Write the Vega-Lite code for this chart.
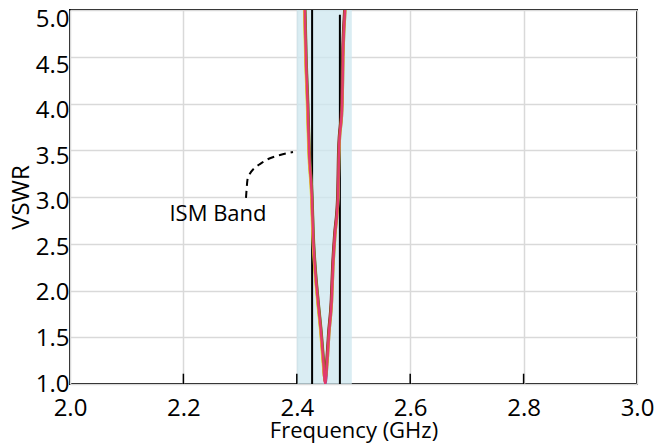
{
  "$schema": "https://vega.github.io/schema/vega-lite/v6.json",
  "width": 567,
  "height": 374,
  "autosize": {"type": "none"},
  "padding": {"left": 70, "top": 10, "right": 18, "bottom": 60},
  "background": "white",
  "config": {
    "view": {"stroke": "black", "strokeWidth": 2},
    "font": "Open Sans"
  },
  "datasets": {
    "band": [{"f": 2.4, "f2": 2.497, "v": 1, "v2": 5}],
    "markers": [{"f": 2.427, "v": 1, "v2": 5}, {"f": 2.476, "v": 1, "v2": 4.95}],
    "ticks": [{"f": 2.2, "v": 1, "v2": 1.11}, {"f": 2.4, "v": 1, "v2": 1.11}, {"f": 2.6, "v": 1, "v2": 1.11}, {"f": 2.8, "v": 1, "v2": 1.11}],
    "arc": [{"f": 2.3104, "v": 2.99}, {"f": 2.3139, "v": 3.214}, {"f": 2.3404, "v": 3.374}, {"f": 2.3704, "v": 3.449}, {"f": 2.3933, "v": 3.481}],
    "label": [{"f": 2.261, "v": 2.813, "t": "ISM Band"}],
    "curves": [
      {"s": "S1", "f": 2.4116, "v": 5.3}, {"s": "S1", "f": 2.4146, "v": 5.0}, {"s": "S1", "f": 2.4166, "v": 4.5}, {"s": "S1", "f": 2.4196, "v": 4.0}, {"s": "S1", "f": 2.4221, "v": 3.5}, {"s": "S1", "f": 2.4271, "v": 3.0}, {"s": "S1", "f": 2.4292, "v": 2.6}, {"s": "S1", "f": 2.4326, "v": 2.25}, {"s": "S1", "f": 2.4376, "v": 1.9}, {"s": "S1", "f": 2.4433, "v": 1.55}, {"s": "S1", "f": 2.4476, "v": 1.22}, {"s": "S1", "f": 2.4503, "v": 1.0}, {"s": "S1", "f": 2.4539, "v": 1.22}, {"s": "S1", "f": 2.4574, "v": 1.55}, {"s": "S1", "f": 2.4621, "v": 1.9}, {"s": "S1", "f": 2.4644, "v": 2.25}, {"s": "S1", "f": 2.468, "v": 2.6}, {"s": "S1", "f": 2.4733, "v": 3.0}, {"s": "S1", "f": 2.475, "v": 3.5}, {"s": "S1", "f": 2.4806, "v": 4.0}, {"s": "S1", "f": 2.4821, "v": 4.5}, {"s": "S1", "f": 2.4856, "v": 5.0}, {"s": "S1", "f": 2.4876, "v": 5.3},
      {"s": "S2", "f": 2.4106, "v": 5.3}, {"s": "S2", "f": 2.4136, "v": 5.0}, {"s": "S2", "f": 2.4156, "v": 4.5}, {"s": "S2", "f": 2.4186, "v": 4.0}, {"s": "S2", "f": 2.4211, "v": 3.5}, {"s": "S2", "f": 2.4261, "v": 3.0}, {"s": "S2", "f": 2.4282, "v": 2.6}, {"s": "S2", "f": 2.4316, "v": 2.25}, {"s": "S2", "f": 2.4366, "v": 1.9}, {"s": "S2", "f": 2.4423, "v": 1.55}, {"s": "S2", "f": 2.4466, "v": 1.22}, {"s": "S2", "f": 2.4493, "v": 1.02}, {"s": "S2", "f": 2.4521, "v": 1.22}, {"s": "S2", "f": 2.4556, "v": 1.55}, {"s": "S2", "f": 2.4603, "v": 1.9}, {"s": "S2", "f": 2.4626, "v": 2.25}, {"s": "S2", "f": 2.4662, "v": 2.6}, {"s": "S2", "f": 2.4715, "v": 3.0}, {"s": "S2", "f": 2.4732, "v": 3.5}, {"s": "S2", "f": 2.4788, "v": 4.0}, {"s": "S2", "f": 2.4803, "v": 4.5}, {"s": "S2", "f": 2.4838, "v": 5.0}, {"s": "S2", "f": 2.4858, "v": 5.3},
      {"s": "S3", "f": 2.41, "v": 5.3}, {"s": "S3", "f": 2.413, "v": 5.0}, {"s": "S3", "f": 2.415, "v": 4.5}, {"s": "S3", "f": 2.418, "v": 4.0}, {"s": "S3", "f": 2.4205, "v": 3.5}, {"s": "S3", "f": 2.4255, "v": 3.0}, {"s": "S3", "f": 2.4276, "v": 2.6}, {"s": "S3", "f": 2.431, "v": 2.25}, {"s": "S3", "f": 2.436, "v": 1.9}, {"s": "S3", "f": 2.4417, "v": 1.55}, {"s": "S3", "f": 2.446, "v": 1.22}, {"s": "S3", "f": 2.4492, "v": 1.03}, {"s": "S3", "f": 2.4539, "v": 1.22}, {"s": "S3", "f": 2.4574, "v": 1.55}, {"s": "S3", "f": 2.4621, "v": 1.9}, {"s": "S3", "f": 2.4644, "v": 2.25}, {"s": "S3", "f": 2.468, "v": 2.6}, {"s": "S3", "f": 2.4733, "v": 3.0}, {"s": "S3", "f": 2.475, "v": 3.5}, {"s": "S3", "f": 2.4806, "v": 4.0}, {"s": "S3", "f": 2.4821, "v": 4.5}, {"s": "S3", "f": 2.4856, "v": 5.0}, {"s": "S3", "f": 2.4876, "v": 5.3},
      {"s": "S4", "f": 2.412, "v": 5.3}, {"s": "S4", "f": 2.415, "v": 5.0}, {"s": "S4", "f": 2.417, "v": 4.5}, {"s": "S4", "f": 2.42, "v": 4.0}, {"s": "S4", "f": 2.4225, "v": 3.5}, {"s": "S4", "f": 2.4275, "v": 3.0}, {"s": "S4", "f": 2.4296, "v": 2.6}, {"s": "S4", "f": 2.433, "v": 2.25}, {"s": "S4", "f": 2.438, "v": 1.9}, {"s": "S4", "f": 2.4437, "v": 1.55}, {"s": "S4", "f": 2.448, "v": 1.22}, {"s": "S4", "f": 2.4502, "v": 1.02}, {"s": "S4", "f": 2.4529, "v": 1.22}, {"s": "S4", "f": 2.4564, "v": 1.55}, {"s": "S4", "f": 2.4611, "v": 1.9}, {"s": "S4", "f": 2.4634, "v": 2.25}, {"s": "S4", "f": 2.467, "v": 2.6}, {"s": "S4", "f": 2.4723, "v": 3.0}, {"s": "S4", "f": 2.474, "v": 3.5}, {"s": "S4", "f": 2.4796, "v": 4.0}, {"s": "S4", "f": 2.4811, "v": 4.5}, {"s": "S4", "f": 2.4846, "v": 5.0}, {"s": "S4", "f": 2.4866, "v": 5.3},
      {"s": "S5", "f": 2.411, "v": 5.3}, {"s": "S5", "f": 2.414, "v": 5.0}, {"s": "S5", "f": 2.416, "v": 4.5}, {"s": "S5", "f": 2.419, "v": 4.0}, {"s": "S5", "f": 2.4215, "v": 3.5}, {"s": "S5", "f": 2.4265, "v": 3.0}, {"s": "S5", "f": 2.4286, "v": 2.6}, {"s": "S5", "f": 2.432, "v": 2.25}, {"s": "S5", "f": 2.437, "v": 1.9}, {"s": "S5", "f": 2.4427, "v": 1.55}, {"s": "S5", "f": 2.447, "v": 1.22}, {"s": "S5", "f": 2.4497, "v": 1.0}, {"s": "S5", "f": 2.4533, "v": 1.22}, {"s": "S5", "f": 2.4568, "v": 1.55}, {"s": "S5", "f": 2.4615, "v": 1.9}, {"s": "S5", "f": 2.4638, "v": 2.25}, {"s": "S5", "f": 2.4674, "v": 2.6}, {"s": "S5", "f": 2.4727, "v": 3.0}, {"s": "S5", "f": 2.4744, "v": 3.5}, {"s": "S5", "f": 2.48, "v": 4.0}, {"s": "S5", "f": 2.4815, "v": 4.5}, {"s": "S5", "f": 2.485, "v": 5.0}, {"s": "S5", "f": 2.487, "v": 5.3}
    ]
  },
  "encoding": {
    "x": {
      "field": "f", "type": "quantitative",
      "scale": {"domain": [2, 3], "nice": false, "zero": false},
      "axis": {
        "title": "Frequency (GHz)",
        "values": [2.0, 2.2, 2.4, 2.6, 2.8, 3.0],
        "format": ".1f",
        "grid": true, "gridColor": "#d9d9d9", "gridWidth": 1.5,
        "ticks": false, "domain": false,
        "labelFont": "Open Sans", "labelFontSize": 24, "labelColor": "black", "labelPadding": 12, "labelFlush": false, "labelOverlap": false,
        "titleFont": "Open Sans", "titleFontSize": 22, "titleFontWeight": "normal", "titleColor": "black", "titlePadding": 0
      }
    },
    "y": {
      "field": "v", "type": "quantitative",
      "scale": {"domain": [1, 5], "nice": false, "zero": false},
      "axis": {
        "title": "VSWR",
        "values": [1.0, 1.5, 2.0, 2.5, 3.0, 3.5, 4.0, 4.5, 5.0],
        "format": ".1f",
        "grid": true, "gridColor": "#d9d9d9", "gridWidth": 1.5,
        "ticks": false, "domain": false,
        "labelFont": "Open Sans", "labelFontSize": 24, "labelColor": "black", "labelPadding": 1,
        "labelOffset": {"expr": "(datum.value - 1) * 2.4"},
        "labelFlush": false, "labelOverlap": false,
        "titleFont": "Open Sans", "titleFontSize": 24, "titleFontWeight": "normal", "titleColor": "black", "titlePadding": 2
      }
    }
  },
  "layer": [
    {
      "data": {"name": "band"},
      "mark": {"type": "rect", "color": "#cee7ef", "opacity": 0.75},
      "encoding": {"x2": {"field": "f2"}, "y2": {"field": "v2"}}
    },
    {
      "data": {"name": "markers"},
      "mark": {"type": "rule", "color": "black", "strokeWidth": 2},
      "encoding": {"y2": {"field": "v2"}}
    },
    {
      "data": {"name": "curves"},
      "mark": {"type": "line", "strokeWidth": 2.5, "clip": true, "interpolate": "monotone"},
      "encoding": {
        "color": {"field": "s", "type": "nominal", "legend": null,
          "scale": {"domain": ["S1", "S2", "S3", "S4", "S5"], "range": ["#7e57a6", "#8b1a1a", "#e6d820", "#7a7a10", "#e23a6e"]}},
        "order": {"field": "f"}
      }
    },
    {
      "data": {"name": "ticks"},
      "mark": {"type": "rule", "color": "black", "strokeWidth": 1.5},
      "encoding": {"y2": {"field": "v2"}}
    },
    {
      "data": {"name": "arc"},
      "mark": {"type": "line", "color": "black", "strokeWidth": 2, "strokeDash": [7, 5], "interpolate": "monotone"},
      "encoding": {}
    },
    {
      "data": {"name": "label"},
      "mark": {"type": "text", "font": "Open Sans", "fontSize": 22, "color": "black", "align": "center", "baseline": "middle"},
      "encoding": {"text": {"field": "t"}}
    }
  ]
}
